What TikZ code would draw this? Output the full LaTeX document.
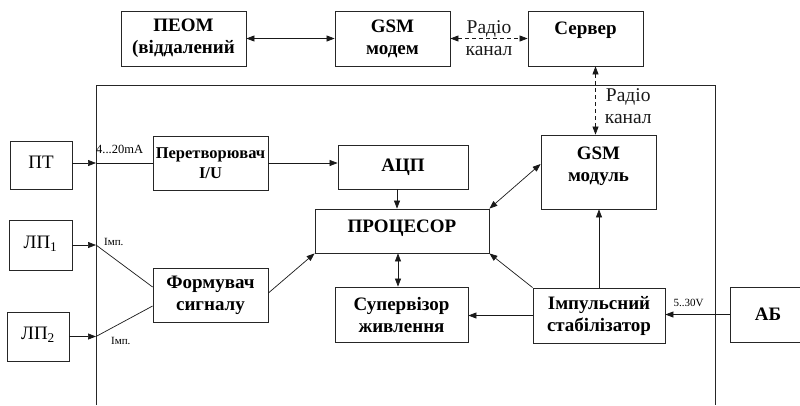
\documentclass[tikz,border=0pt]{standalone}
\usepackage{fontspec}
\setmainfont{Liberation Serif}
\usetikzlibrary{arrows.meta,calc}
\tikzset{
  x=1pt, y=-1pt,
  >={Triangle[length=8pt,width=6pt]},
  blocknode/.style = {draw=black!85, line width=0.8pt, align=center, inner sep=0pt, text centered},
  blk_b/.style = {blocknode, font=\fontsize{19}{22}\selectfont\bfseries},
  blk_n/.style = {blocknode, font=\fontsize{19}{22}\selectfont},
  lbl_r/.style = {align=center, inner sep=0pt, font=\fontsize{19.5}{22}\selectfont},
  lbl_s/.style = {inner sep=0pt, font=\fontsize{11}{12}\selectfont},
  conn/.style = {line width=0.7pt, black!90},
  conn_d/.style = {conn, dash pattern=on 4pt off 3pt},
  frm/.style = {draw=black!85, line width=0.8pt}
}
\begin{document}
\begin{tikzpicture}
\useasboundingbox (0,0) rectangle (800,405);
\draw[frm] (96,405) -- (96,85) coordinate (fr_nw) -- (715,85) -- (715,405);
\node[blk_b, minimum width=125pt, minimum height=55pt] (peom) at (183.5,38.5) {ПЕОМ\\(віддалений};
\node[blk_b, minimum width=115pt, minimum height=55pt] (modem) at (392.5,38.5) {GSM\\модем};
\node[blk_b, minimum width=115pt, minimum height=55pt] (server) at (585.5,38.5) {Сервер\\[-2pt]\mbox{}};
\node[blk_b, minimum width=115pt, minimum height=74pt] (gsm) at (598.5,172) {GSM\\модуль\\[-6pt]\mbox{}};
\node[blk_n, minimum width=62pt, minimum height=48pt] (pt) at (41,165) {\raisebox{5pt}{ПТ}};
\node[blk_n, minimum width=63pt, minimum height=50pt] (lp1) at (40.5,245) {\raisebox{5pt}{ЛП\textsubscript{1}}};
\node[blk_n, minimum width=62pt, minimum height=49pt] (lp2) at (38,336.5) {\raisebox{6pt}{ЛП\textsubscript{2}}};
\node[blk_b, minimum width=115pt, minimum height=54pt, font=\fontsize{16.5}{20}\selectfont\bfseries] (conv) at (210.5,163) {Перетворювач\\I/U};
\node[blk_b, minimum width=130pt, minimum height=44pt] (adc) at (403,167) {АЦП};
\node[blk_b, minimum width=174pt, minimum height=44pt] (cpu) at (402,231) {ПРОЦЕСОР\\[-12pt]\mbox{}};
\node[blk_b, minimum width=115pt, minimum height=54pt] (former) at (210.5,295) {Формувач\\сигналу};
\node[blk_b, minimum width=133pt, minimum height=55pt] (superv) at (401.5,314.5) {Супервізор\\живлення};
\node[blk_b, minimum width=132pt, minimum height=55pt] (stab) at (599,315.5) {Імпульсний\\стабілізатор};
\node[blk_b, minimum width=76pt, minimum height=55pt] (ab) at (768,314.5) {АБ};
\draw[conn, <->] (peom) -- (modem);
\draw[conn_d, <->] (modem) -- node[lbl_r] (rk1) {Радіо\\канал} (server);
\draw[conn_d, <->] ([xshift=-3pt]gsm.north |- server.south) -- node[lbl_r, anchor=west, xshift=9pt, yshift=-6pt] (rk2) {Радіо\\канал} ([xshift=-3pt]gsm.north);
\draw[conn, ->] (pt.east |- conv.west) -- (conv.west -| fr_nw) coordinate (in_pt);
\draw[conn] (in_pt) -- (conv.west);
\node[lbl_s, anchor=south west, yshift=9pt, xshift=0pt, font=\fontsize{12.5}{13}\selectfont] (l_ma) at (in_pt) {4...20mA};
\draw[conn, ->] (conv.east) -- (conv.east -| adc.west);
\draw[conn, ->] ([xshift=-6pt]adc.south) -- ([xshift=-6pt]adc.south |- cpu.north);
\draw[conn, <->] (cpu.north east) -- ([yshift=8pt]gsm.west);
\draw[conn, ->] (lp1.east) -- (lp1.east -| fr_nw) coordinate (in1);
\draw[conn] (in1) -- ([yshift=8pt]former.west);
\node[lbl_s, anchor=west, xshift=8pt, yshift=3pt] (l_imp1) at (in1) {Імп.};
\draw[conn, ->] (lp2.east) -- (lp2.east -| fr_nw) coordinate (in2);
\draw[conn] (in2) -- ([yshift=-11pt]former.west);
\node[lbl_s, anchor=west, xshift=15pt, yshift=-4pt] (l_imp2) at (in2) {Імп.};
\draw[conn, ->] ([yshift=2pt]former.east) -- (cpu.south west);
\draw[conn, <->] ([xshift=-4pt]cpu.south) -- ([xshift=-4pt]cpu.south |- superv.north);
\draw[conn, ->] (stab.west) -- (stab.west -| superv.east);
\draw[conn, ->] (stab.north) -- (stab.north |- gsm.south);
\draw[conn, ->] (stab.north west) -- (cpu.south east);
\draw[conn, ->] (ab.west) -- (ab.west -| stab.east);
\node[lbl_s, anchor=south west, xshift=8pt, yshift=9pt] (l_v) at (stab.east) {5..30V};
\end{tikzpicture}
\end{document}
